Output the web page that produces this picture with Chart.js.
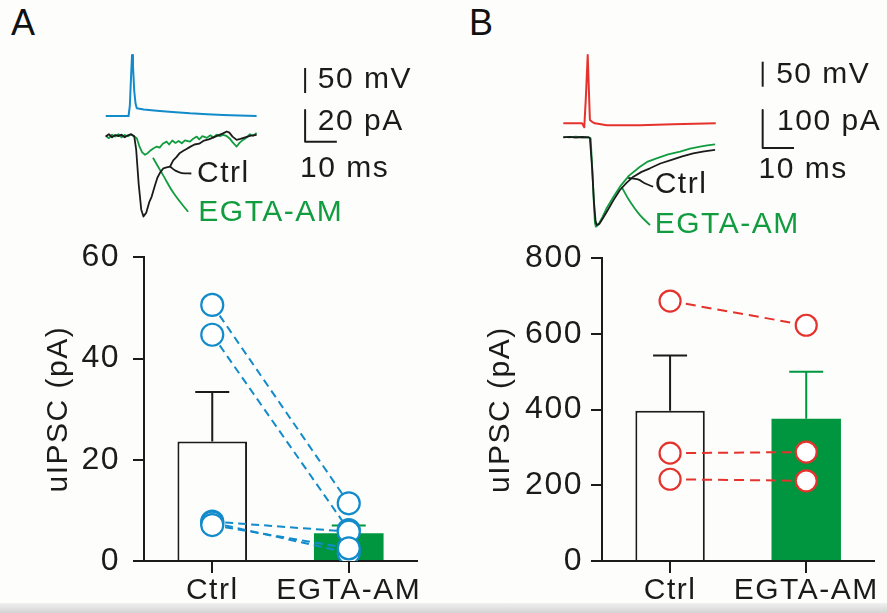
<!DOCTYPE html>
<html>
<head>
<meta charset="utf-8">
<script src="https://cdn.jsdelivr.net/npm/chart.js@4.4.1/dist/chart.umd.min.js"></script>
<style>
  html, body { margin: 0; padding: 0; background: #fdfdfb; }
  #fig { position: relative; width: 887px; height: 613px; overflow: hidden; background: #fdfdfb; }
  #fig canvas { position: absolute; }
  .strip { position: absolute; left: 0; top: 603px; width: 887px; height: 10px; background: linear-gradient(#f0f0f0, #d4d4d4); }
  .letter { position: absolute; font: 36px/36px "Liberation Sans", Arial, sans-serif; color: #111; }
</style>
</head>
<body>
<div id="fig">
  <div class="strip"></div>
  <div class="letter" style="left:11px;top:5px">A</div>
  <div class="letter" style="left:469px;top:5px">B</div>
  <canvas id="traceA" width="440" height="240" style="left:0;top:0"></canvas>
  <canvas id="traceB" width="447" height="240" style="left:440px;top:0"></canvas>
  <canvas id="barA" width="440" height="373" style="left:0;top:240px"></canvas>
  <canvas id="barB" width="447" height="373" style="left:440px;top:240px"></canvas>
</div>
<script>
const GREEN = '#00963f';
const TRACE_GREEN = '#119c40';
const BLUE = '#128bcb';
const RED = '#e5322c';
const INK = '#1b1b1b';
const FONT = '"Liberation Sans", Arial, sans-serif';

const groups = ['Ctrl', 'EGTA-AM'];

// panel A: unitary IPSC amplitude (pA), mean + sem and paired cells
const aMean = [23.6, 5.5];
const aSem = [9.8, 1.5];
const aCtrl = [50.6, 44.7, 7.8, 7.6, 7.1];
const aEgta = [11.4, 6.1, 5.8, 1.6, 2.5];

// panel B
const bMean = [397, 376];
const bSem = [146, 124];
const bCtrl = [687, 285, 216];
const bEgta = [623, 288, 212];

// example traces, [ms, mV] or [ms, pA]
const aSpike = [[0,-70],[7.2,-70],[7.6,-50],[8.0,10],[8.3,52],[8.6,30],[9.0,-20],[9.4,-45],[9.8,-54.7],[12,-57],[16.1,-59.3],[21,-62],[26.6,-64.7],[32,-66.5],[37.1,-68],[42,-69.2],[47.6,-70]];
const aCtrlTrace = [[0,0],[1,1.5],[2,-0.5],[3,1],[4,0.3],[5,1.2],[6,-0.4],[7,0.8],[8,1.5],[9,0.2],[9.6,-8],[10.4,-30],[11.2,-46],[11.9,-50.5],[12.8,-48],[13.8,-41],[14.5,-37.9],[15.5,-31],[16.3,-26],[17.1,-22.9],[18.2,-20],[19.2,-19.5],[20.3,-18.9],[21.3,-15],[22.3,-13],[23.4,-10.3],[24.5,-9],[25.5,-7.8],[26.6,-6.5],[28,-5],[29.5,-4.5],[31,-2.5],[32.5,-1.8],[34,-0.5],[35.5,0.8],[37,2],[38.2,3.2],[39,2.5],[40,0],[41.3,-2.1],[42.5,-1.5],[44,-0.5],[45.5,0.5],[47.6,1.1]];
const aEgtaTrace = [[0,0.5],[1,-1],[2,1.2],[3,0],[4,1.5],[5,-0.5],[6,1],[7,0.2],[8,1.3],[9,0],[9.8,-1],[10.6,-6],[11.5,-10],[12.4,-11.5],[13.2,-10.5],[14,-9],[15,-7.5],[16.1,-6.3],[17,-7],[18,-4.5],[19.2,-3.2],[20,-5],[21,-2.5],[22,-4],[23,-2.8],[24,-4.2],[25,-2.4],[26.6,-3.2],[27.5,-1.5],[28.7,0],[29.5,-1.8],[30.5,0.3],[31.9,-0.8],[33,0.8],[34,-0.6],[35,1.2],[36,0.3],[37.1,1.1],[38,0.5],[39,-1],[40,-3.5],[41.3,-6.3],[42.2,-4],[43.3,-2.1],[44.5,-0.5],[45.5,1.5],[46.5,0.5],[47.6,2.3]];
const bSpike = [[0,-70],[6,-70],[6.7,-78],[7.2,-20],[7.8,66.6],[8.1,10],[8.5,-63.4],[9.2,-67],[10.1,-70],[13.9,-74],[24.5,-74],[35.1,-72],[48.7,-70]];
const bCtrlTrace = [[0,0],[2,1],[4,-0.5],[6,0.8],[8,0],[8.5,-2],[9.2,-80],[9.8,-170],[10.3,-220],[10.7,-230.8],[11.5,-228],[12.5,-215],[13.9,-195.8],[16,-166],[18.1,-138.7],[20.2,-120],[22.4,-103.7],[25,-91],[27.7,-81.6],[31,-69],[35.1,-57.9],[38,-50],[41.5,-42.1],[45,-37],[48.5,-33.4]];
const bEgtaTrace = [[0,1],[2,0],[4,1.5],[6,0],[8,0.5],[8.75,-3],[9.3,-90],[9.8,-180],[10.1,-225],[10.4,-235.3],[11.2,-230],[12.5,-210],[13.9,-186],[16,-157],[18.1,-130],[21,-101],[24.5,-77.4],[27,-64],[29.8,-55.3],[33.5,-45],[37.3,-37.9],[40.5,-30],[43.7,-24.7],[46,-21],[48.5,-18.4]];

// label pointers
const aCtrlPointer = [[20.3,-18.9],[22,-21.5],[24,-23],[27,-23.3]];
const aEgtaPointer = [[14.9,-13.4],[18,-24],[21.5,-36],[26,-47.5]];
const bCtrlPointer = [[20.7,-107],[23.9,-111],[26,-121],[28.7,-130]];
const bEgtaPointer = [[18.6,-130],[21,-165],[24.5,-205],[27.7,-231]];

// widen glyph spacing a little on every chart
const spacing = {
  id: 'spacing',
  beforeUpdate(chart){ chart.ctx.letterSpacing = '1.5px'; },
  beforeDraw(chart){ chart.ctx.letterSpacing = '1.5px'; }
};

function textLabels(items){
  return {
    id: 'textLabels',
    afterDatasetsDraw(chart){
      const ctx = chart.ctx;
      ctx.save();
      ctx.font = '30px ' + FONT;
      ctx.textBaseline = 'middle';
      ctx.textAlign = 'left';
      items.forEach(function(it){
        ctx.fillStyle = it.color || INK;
        ctx.fillText(it.text, chart.scales.x.getPixelForValue(it.x), chart.scales[it.axis].getPixelForValue(it.y));
      });
      ctx.restore();
    }
  };
}

function errorBars(mean, sem, colors){
  return {
    id: 'errorBars',
    afterDatasetDraw(chart, args){
      if(args.index !== 0) return;
      const ctx = chart.ctx;
      const x = chart.scales.x, y = chart.scales.y;
      mean.forEach(function(m, i){
        const px = x.getPixelForValue(i);
        const y0 = y.getPixelForValue(m);
        const y1 = y.getPixelForValue(m + sem[i]);
        ctx.save();
        ctx.strokeStyle = colors[i];
        ctx.lineWidth = 2;
        ctx.beginPath();
        ctx.moveTo(px, y0);
        ctx.lineTo(px, y1);
        ctx.moveTo(px - 17, y1);
        ctx.lineTo(px + 17, y1);
        ctx.stroke();
        ctx.restore();
      });
    }
  };
}

function line(data, color, axis, width){
  return {data: data, borderColor: color, borderWidth: width || 1.8, yAxisID: axis, pointRadius: 0, tension: 0, borderJoinStyle: 'round'};
}

function traceChart(id, o){
  const datasets = [
    line(o.spike, o.spikeColor, 'yV', 2),
    line(o.ctrl, INK, 'yI'),
    line(o.egta, TRACE_GREEN, 'yI'),
    Object.assign(line(o.ctrlPointer, INK, 'yI', 1.8), {tension: 0.4}),
    Object.assign(line(o.egtaPointer, TRACE_GREEN, 'yI', 1.8), {tension: 0.4}),
    // scale bars
    line([[o.bar.t, o.bar.v], [o.bar.t, o.bar.v + o.bar.mV]], INK, 'yV', 2),
    line([[o.bar.t, o.bar.i + o.bar.pA], [o.bar.t, o.bar.i], [o.bar.t + o.bar.ms, o.bar.i]], INK, 'yI', 2)
  ];
  return new Chart(document.getElementById(id), {
    type: 'line',
    data: {datasets: datasets},
    options: {
      responsive: false,
      animation: false,
      events: [],
      layout: {padding: 0},
      plugins: {legend: {display: false}, tooltip: {enabled: false}},
      scales: {
        x: {type: 'linear', display: false, min: o.x[0], max: o.x[1]},
        yI: {type: 'linear', display: false, min: o.yI[0], max: o.yI[1]},
        yV: {type: 'linear', display: false, min: o.yV[0], max: o.yV[1]}
      }
    },
    plugins: [spacing, textLabels(o.labels)]
  });
}

traceChart('traceA', {
  spike: aSpike, spikeColor: BLUE, ctrl: aCtrlTrace, egta: aEgtaTrace,
  ctrlPointer: aCtrlPointer, egtaPointer: aEgtaPointer,
  bar: {t: 62.9, v: -24, mV: 50, i: -3.2, pA: 20, ms: 10},
  x: [-33.35, 105.45], yI: [-65.3, 86.25], yV: [-318, 162],
  labels: [
    {text: 'Ctrl', x: 28.8, y: -23.6, axis: 'yI'},
    {text: 'EGTA-AM', x: 29.2, y: -48.1, axis: 'yI', color: TRACE_GREEN},
    {text: '50 mV', x: 66.9, y: 2, axis: 'yV'},
    {text: '20 pA', x: 66.9, y: 9.5, axis: 'yI'},
    {text: '10 ms', x: 61.3, y: -20.4, axis: 'yI'}
  ]
});

traceChart('traceB', {
  spike: bSpike, spikeColor: RED, ctrl: bCtrlTrace, egta: bEgtaTrace,
  ctrlPointer: bCtrlPointer, egtaPointer: bEgtaPointer,
  bar: {t: 63.7, v: 3.2, mV: 50, i: -28.2, pA: 100, ms: 10},
  x: [-39.39, 103.42], yI: [-270.3, 361.3], yV: [-303.4, 176.6],
  labels: [
    {text: 'Ctrl', x: 29.2, y: -125.5, axis: 'yI'},
    {text: 'EGTA-AM', x: 29.2, y: -230.8, axis: 'yI', color: TRACE_GREEN},
    {text: '50 mV', x: 68, y: 26.6, axis: 'yV'},
    {text: '100 pA', x: 68.3, y: 41, axis: 'yI'},
    {text: '10 ms', x: 62.4, y: -86, axis: 'yI'}
  ]
});

function pairedBarChart(id, o){
  const datasets = [{
    type: 'bar',
    data: o.mean,
    backgroundColor: ['#fdfdfb', GREEN],
    borderColor: [INK, GREEN],
    borderWidth: [2, 0],
    borderSkipped: 'bottom',
    barPercentage: 0.51,
    categoryPercentage: 1,
    order: 3
  }];
  o.ctrl.forEach(function(c, k){
    datasets.push({
      type: 'line', data: [c, o.egta[k]], borderColor: o.color, borderWidth: 2,
      borderDash: o.dash, pointRadius: 0, order: 2
    });
  });
  [o.ctrl, o.egta].forEach(function(vals, g){
    datasets.push({
      type: 'line', showLine: false, order: 1,
      data: vals.map(v => ({x: groups[g], y: v})),
      pointRadius: o.radius, pointBorderWidth: 2.2,
      pointBackgroundColor: '#ffffff', pointBorderColor: o.color
    });
  });
  const axisGrid = {display: true, drawOnChartArea: false, drawTicks: true, color: INK, lineWidth: 2};
  return new Chart(document.getElementById(id), {
    type: 'bar',
    data: {labels: groups, datasets: datasets},
    options: {
      responsive: false,
      animation: false,
      events: [],
      layout: {padding: {top: 0, right: o.right, left: 0, bottom: 0}},
      plugins: {legend: {display: false}, tooltip: {enabled: false}},
      scales: {
        x: {
          offset: true,
          grid: Object.assign({}, axisGrid, {tickLength: 12, offset: false}),
          border: {display: true, color: INK, width: 2},
          ticks: {color: INK, font: {family: FONT, size: 30}, padding: 0, maxRotation: 0, autoSkip: false},
          afterFit: s => { s.height = 52; s.paddingLeft = 0; s.paddingRight = 0; }
        },
        y: {
          min: 0, max: o.max,
          grid: Object.assign({}, axisGrid, {tickLength: 11}),
          border: {display: true, color: INK, width: 2},
          ticks: {stepSize: o.step, color: INK, font: {family: FONT, size: 32}, padding: o.tickPad},
          title: {display: true, text: 'uIPSC (pA)', color: INK, font: {family: FONT, size: 30}, padding: {top: o.titlePad, bottom: 0}},
          afterFit: s => { s.width = o.axisLeft; s.paddingTop = o.top; s.paddingBottom = 0; }
        }
      }
    },
    plugins: [spacing, errorBars(o.mean, o.sem, [INK, GREEN])]
  });
}

pairedBarChart('barA', {
  mean: aMean, sem: aSem, ctrl: aCtrl, egta: aEgta, color: BLUE, dash: [8, 5], radius: 11,
  max: 60, step: 20, tickPad: 13, titlePad: 41, axisLeft: 144, top: 17.3, right: 23
});

pairedBarChart('barB', {
  mean: bMean, sem: bSem, ctrl: bCtrl, egta: bEgta, color: RED, dash: [10, 6], radius: 10.5,
  max: 800, step: 200, tickPad: 8, titlePad: 43, axisLeft: 162, top: 18.3, right: 12
});
</script>
</body>
</html>
